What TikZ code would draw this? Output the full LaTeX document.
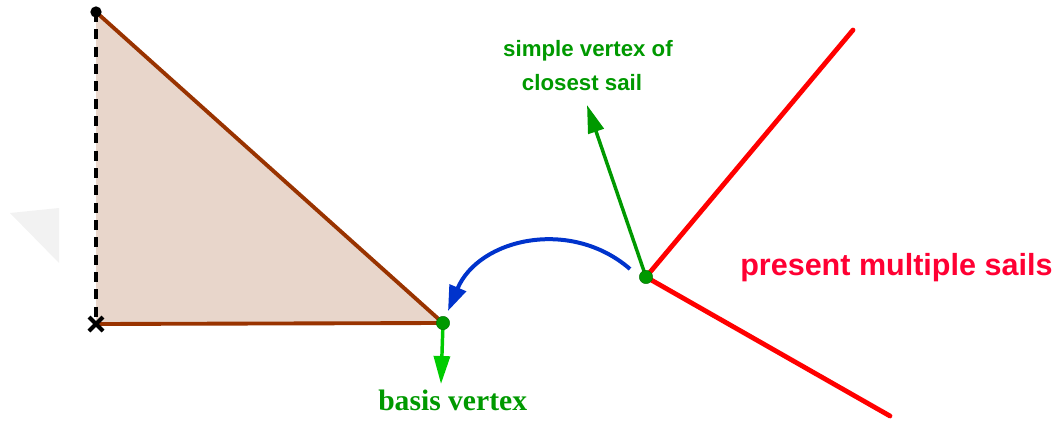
\documentclass[tikz,border=0pt]{standalone}
\usepackage{fontspec}
\setmainfont{Liberation Serif}
\setsansfont{Liberation Sans}
\usetikzlibrary{arrows.meta,calc}
\definecolor{brownedge}{RGB}{153,51,0}
\definecolor{brownfill}{RGB}{232,214,203}
\definecolor{dgreen}{RGB}{0,153,0}
\definecolor{lgreen}{RGB}{0,204,0}
\definecolor{bluearc}{RGB}{0,51,204}
\definecolor{sailred}{RGB}{255,0,0}
\definecolor{labred}{RGB}{255,0,51}
\definecolor{faint}{RGB}{242,242,242}
\tikzset{
  edge/.style={draw=brownedge, line width=2.9pt},
  sail/.style={draw=sailred, line width=3.6pt, line cap=round},
  vecarrow/.style={line width=2.6pt, -{Triangle[length=21pt,width=12pt]}},
  gdot/.style={circle, fill=dgreen, draw=dgreen!70!black, line width=0.3pt, minimum size=10pt, inner sep=0pt},
  bdot/.style={circle, fill=black, minimum size=8.5pt, inner sep=0pt},
  sanslab/.style={font=\sffamily\bfseries, inner sep=0pt},
}
\begin{document}
\begin{tikzpicture}[x=0.75pt, y=-0.75pt]
\useasboundingbox (0,0) rectangle (1057,421);
% faint artifact
\fill[faint] (10,213) -- (59,208) -- (59,263) -- cycle;
% coordinates
\coordinate (T) at (96,12);
\coordinate (X) at (96,324);
\coordinate (B) at (443,323);
\coordinate (S) at (646,277);
\coordinate (R1) at (853,30);
\coordinate (R2) at (890,416);
\coordinate (BT) at (441,384);
\coordinate (ST) at (587,105);
\coordinate (A1) at (630,269);
\coordinate (A2) at (448,311);
% triangle
\fill[brownfill] (T) -- (B) -- (X) -- cycle;
\draw[edge] (T) -- (B);
\draw[edge] (X) -- (B);
\draw[black, line width=2.5pt, dash pattern=on 7.5pt off 5.5pt] (T) -- (X);
% x mark
\draw[black, line width=3pt] ($(X)+(-7,-7)$) -- ($(X)+(7,7)$);
\draw[black, line width=3pt] ($(X)+(-7,7)$) -- ($(X)+(7,-7)$);
% sails
\draw[sail] (S) -- (R1);
\draw[sail] (S) -- (R2);
% vectors
\draw[vecarrow, draw=lgreen, fill=lgreen] (B) -- (BT);
\draw[vecarrow, draw=dgreen, fill=dgreen] (S) -- (ST);
% blue arc
\draw[bluearc, line width=3pt, -{Triangle[length=19pt,width=13pt]}] (A1) .. controls (570.6,217.4) and (478.8,238.5) .. (A2);
% dots
\node[bdot] (tdot) at (T) {};
\node[gdot] (bdotn) at (B) {};
\node[gdot] (sdot) at (S) {};
% labels
\node[sanslab, text=dgreen, anchor=base, font=\sffamily\bfseries\fontsize{16.7pt}{20pt}\selectfont] (lab1) at (588,56) {simple vertex of};
\node[sanslab, text=dgreen, anchor=base, font=\sffamily\bfseries\fontsize{16.7pt}{20pt}\selectfont] (lab2) at (582,90) {closest sail};
\node[inner sep=0pt, text=dgreen, anchor=base west, font=\rmfamily\bfseries\fontsize{22.2pt}{26pt}\selectfont] (lab3) at (378,410) {basis vertex};
\node[sanslab, text=labred, anchor=base west, font=\sffamily\bfseries\fontsize{22.9pt}{27pt}\selectfont] (lab4) at (740,275) {present multiple sails};
\end{tikzpicture}
\end{document}
